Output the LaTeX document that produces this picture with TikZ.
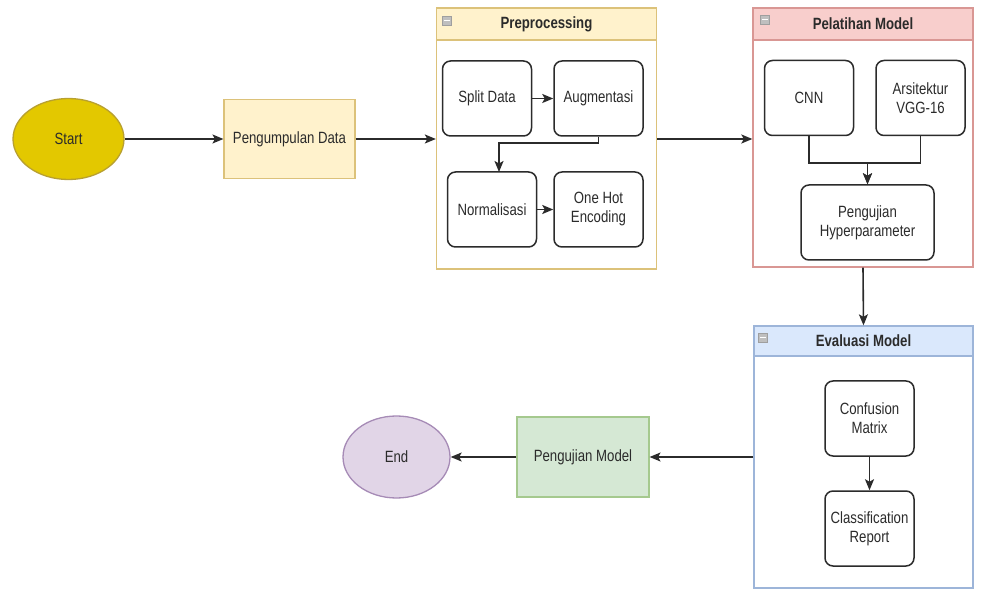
\documentclass[tikz,border=0pt]{standalone}
\usepackage{fontspec}
\setmainfont{Liberation Sans}[FakeStretch=0.81]
\usetikzlibrary{arrows.meta,calc,shapes.geometric}

\definecolor{ink}{HTML}{2B2B2B}
\definecolor{yelfill}{HTML}{FFF2CC}
\definecolor{yelline}{HTML}{DCC27A}
\definecolor{redfill}{HTML}{F8CECC}
\definecolor{redline}{HTML}{D99794}
\definecolor{bluefill}{HTML}{DAE8FC}
\definecolor{blueline}{HTML}{9DB5D9}
\definecolor{grnfill}{HTML}{D5E8D4}
\definecolor{grnline}{HTML}{A5C98E}
\definecolor{purfill}{HTML}{E1D5E7}
\definecolor{purline}{HTML}{A68BB6}
\definecolor{goldfill}{HTML}{E3C800}
\definecolor{goldline}{HTML}{B8A030}

\tikzset{
  base/.style={font=\fontsize{16.3}{19}\selectfont, text=ink, align=center, inner sep=2pt},
  stepbox/.style={base, draw=ink, line width=1.5pt, rounded corners=8pt, fill=white,
    minimum width=89pt, minimum height=75pt},
  flatbox/.style={base, line width=1.1pt, minimum width=131pt, minimum height=79pt},
  oval/.style={base, ellipse, line width=1.3pt},
  lane/.style={draw, line width=1.3pt, fill=white, minimum width=220pt},
  lanehead/.style={draw, line width=1.3pt, minimum width=220pt, minimum height=32pt,
    font=\bfseries\fontsize{16.3}{19}\selectfont, text=ink},
  icon/.style={draw=gray!75, fill=gray!50, minimum size=9pt, inner sep=0pt},
  flow/.style={draw=ink, line width=1.6pt, -{Stealth[length=11pt,width=9pt,inset=2.5pt]}},
}

\begin{document}
\begin{tikzpicture}[x=1pt,y=-1pt]
  \useasboundingbox (0,0) rectangle (988,593);

  % start and first step
  \node[oval, fill=goldfill, draw=goldline, minimum width=111pt, minimum height=81pt]
    (start) at (68.5,139) {Start};
  \node[flatbox, fill=yelfill, draw=yelline] (collect) at (289.5,139) {Pengumpulan Data};

  % Preprocessing lane
  \node[lane, draw=yelline, minimum height=261pt] (prep) at (546.5,138.5) {};
  \node[lanehead, fill=yelfill, draw=yelline] (prephead) at (546.5,24) {Preprocessing};
  \node[icon] (prepicon) at (447,21) {};
  \node[stepbox] (split) at (487,98.5) {Split Data};
  \node[stepbox] (aug) at (598.5,98.5) {Augmentasi};
  \node[stepbox] (norm) at (492,209.5) {Normalisasi};
  \node[stepbox] (onehot) at (598.5,209.5) {One Hot\\Encoding};
  \coordinate (prepturn) at (0,143);
  \coordinate (normin) at (499,172);

  % Pelatihan Model lane
  \node[lane, draw=redline, minimum height=259pt] (train) at (863,137.5) {};
  \node[lanehead, fill=redfill, draw=redline] (trainhead) at (863,24) {Pelatihan Model};
  \node[icon] (trainicon) at (765,20) {};
  \node[stepbox] (cnn) at (809,98) {CNN};
  \node[stepbox] (vgg) at (920.5,98) {Arsitektur\\VGG-16};
  \node[stepbox, minimum width=133pt] (hyper) at (867.5,222.5) {Pengujian\\Hyperparameter};
  \coordinate (trainjoin) at (0,163);

  % Evaluasi Model lane
  \node[lane, draw=blueline, minimum height=262pt, minimum width=219pt] (eval) at (863.5,457) {};
  \node[lanehead, fill=bluefill, draw=blueline, minimum width=219pt, minimum height=30pt]
    (evalhead) at (863.5,341) {Evaluasi Model};
  \node[icon] (evalicon) at (763,338) {};
  \node[stepbox] (conf) at (869.5,418.5) {Confusion\\Matrix};
  \node[stepbox] (report) at (869.5,528.5) {Classification\\Report};

  % testing and end
  \node[flatbox, fill=grnfill, draw=grnline, minimum width=132pt, minimum height=80pt]
    (test) at (583,457) {Pengujian Model};
  \node[oval, fill=purfill, draw=purline, minimum width=107pt, minimum height=82pt]
    (finish) at (396.5,457) {End};

  % minus marks on the lane icons
  \foreach \ic in {prepicon,trainicon,evalicon}
    \draw[white, line width=1pt] ($(\ic.west)+(1.5,0)$) -- ($(\ic.east)+(-1.5,0)$);

  % main flow
  \draw[flow] (start) -- (collect);
  \draw[flow] (collect) -- (collect -| prep.west);
  \draw[flow] (prep.east |- collect) -- (train.west |- collect);
  \draw[flow] (train.south) -- (evalhead.north);
  \draw[flow] (eval.west |- test) -- (test.east);
  \draw[flow] (test) -- (finish);

  % inside Preprocessing
  \draw[flow] (split) -- (aug);
  \draw[flow] (aug.south) |- (normin |- prepturn) -- (normin);
  \draw[flow] (norm) -- (onehot);

  % inside Pelatihan Model
  \draw[flow] (cnn.south) |- (hyper.north |- trainjoin) -- (hyper.north);
  \draw[flow] (vgg.south) |- (hyper.north |- trainjoin) -- (hyper.north);

  % inside Evaluasi Model
  \draw[flow] (conf) -- (report);
\end{tikzpicture}
\end{document}
